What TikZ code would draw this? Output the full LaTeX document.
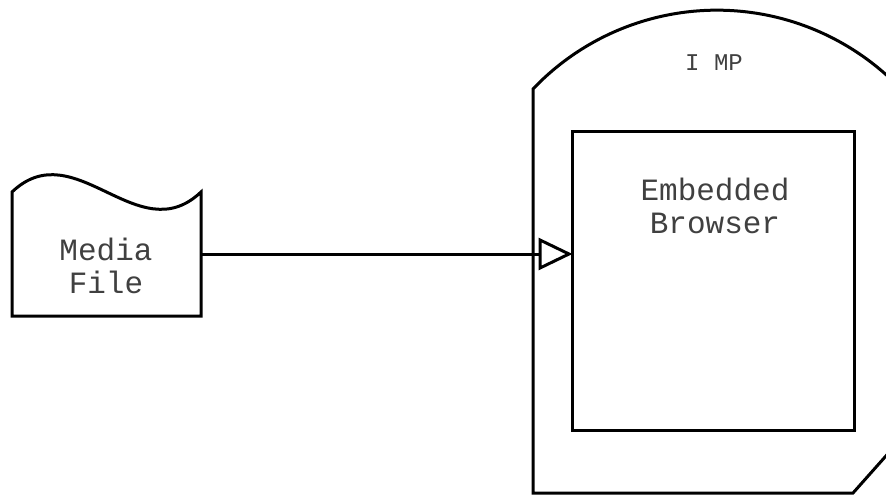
\documentclass[tikz,border=0pt]{standalone}
\usepackage{fontspec}
\newfontfamily\courfont{Liberation Mono}
\usetikzlibrary{arrows.meta}
\tikzset{
  outline/.style={draw=black, line width=3pt, line join=miter},
  lbl/.style={font=\courfont\fontsize{31}{33}\selectfont, text=black!75, align=center, inner sep=0pt},
  smalllbl/.style={font=\courfont\fontsize{24}{26}\selectfont, text=black!75, inner sep=0pt},
  flow/.style={draw=black, line width=3pt, shorten >=-2pt, -{Triangle[open, length=34pt 0 0, width=32pt 0 0]}}
}
\begin{document}
\begin{tikzpicture}[x=1pt, y=-1pt]
\useasboundingbox (0,0) rectangle (886,495);
\clip (0,0) rectangle (886,495);
% IMP outer shape
\draw[outline] (533,493) -- (533,89) arc[start angle=223.6, end angle=316.4, radius=254]
  -- (901,439) -- (853,493) -- cycle;
\node[smalllbl] (imp) at (714,63) {I MP};
% Embedded browser
\node[outline, minimum width=282pt, minimum height=299pt, inner sep=0pt] (browser) at (713,280.5) {};
\node[lbl] (browsertext) at (715,206) {Embedded\\Browser};
% Media file
\node[minimum width=189pt, minimum height=124pt, inner sep=0pt] (media) at (106.5,254) {};
\draw[outline] (12,316) -- (12,192) .. controls (75,132) and (138,252) .. (201,192) -- (201,316) -- cycle;
\node[lbl] (mediatext) at (106,266) {Media\\File};
% connector
\draw[flow] (media.east) -- (media.east -| browser.west);
\end{tikzpicture}
\end{document}
